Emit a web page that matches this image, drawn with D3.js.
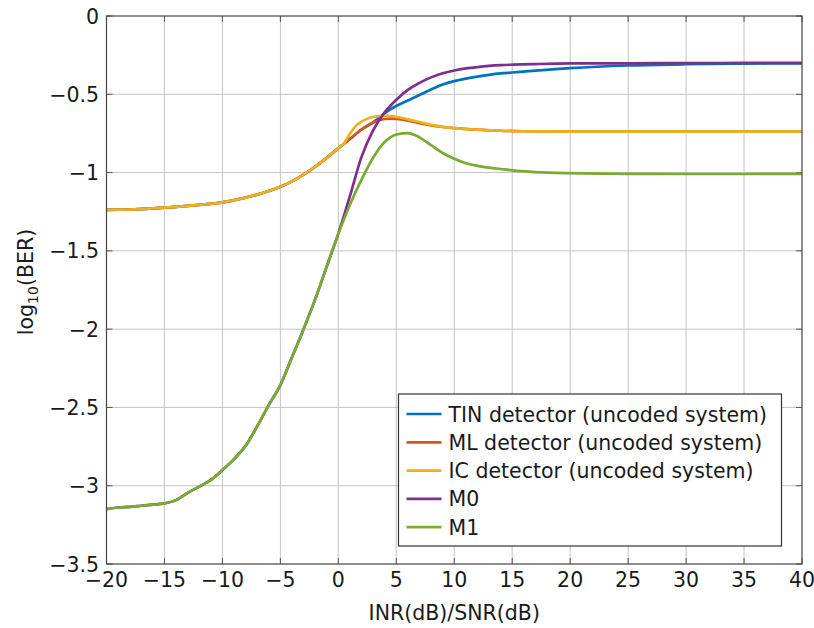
<!DOCTYPE html>
<html>
<head>
<meta charset="utf-8">
<script src="https://cdn.jsdelivr.net/npm/d3@7"></script>
<style>
  html, body { margin: 0; padding: 0; background: #fff; }
  svg { display: block; }
  text { font-family: "DejaVu Sans", sans-serif; fill: #1a1a1a; }
</style>
</head>
<body>
<svg id="chart" width="814" height="628"></svg>
<script>
// BER vs INR/SNR for the uncoded detectors and the two models
const xTicks = [-20, -15, -10, -5, 0, 5, 10, 15, 20, 25, 30, 35, 40];
const yTicks = [0, -0.5, -1, -1.5, -2, -2.5, -3, -3.5];

const seriesNames = [
  "TIN detector (uncoded system)",
  "ML detector (uncoded system)",
  "IC detector (uncoded system)",
  "M0",
  "M1"
];
const seriesColors = ["#0072BD", "#D95319", "#EDB120", "#7E2F8E", "#77AC30"];

// shared low-INR part of the three uncoded detectors
const lowX = [-20, -18, -16, -14, -12, -10, -8, -6, -5, -4, -3, -2, -1, 0];
const lowY = [-1.238, -1.236, -1.229, -1.219, -1.206, -1.19, -1.16, -1.118, -1.09, -1.056, -1.013, -0.963, -0.906, -0.845];

const tinX = [1, 2, 3, 3.5, 4, 5, 6, 7, 8, 9, 10, 11, 12, 13, 14, 15, 17, 20, 25, 30, 35, 40];
const tinY = [-0.785, -0.725, -0.68, -0.65, -0.62, -0.575, -0.54, -0.505, -0.47, -0.438, -0.416, -0.4, -0.387, -0.376, -0.367, -0.361, -0.349, -0.333, -0.316, -0.308, -0.304, -0.303];

const mlX = [1, 2, 3, 4, 4.5, 5, 6, 7, 8, 9, 10, 12, 14, 16, 20, 25, 30, 35, 40];
const mlY = [-0.785, -0.725, -0.68, -0.658, -0.655, -0.657, -0.668, -0.685, -0.699, -0.709, -0.716, -0.726, -0.733, -0.736, -0.738, -0.739, -0.739, -0.739, -0.739];

const icX = [0.5, 1, 1.5, 2, 2.5, 3, 3.5, 4, 5, 6, 7, 8, 9, 10, 12, 14, 16, 20, 25, 30, 35, 40];
const icY = [-0.812, -0.752, -0.703, -0.674, -0.656, -0.645, -0.639, -0.638, -0.644, -0.66, -0.677, -0.695, -0.708, -0.716, -0.726, -0.733, -0.736, -0.738, -0.739, -0.739, -0.739, -0.739];

// simulated models share the same low-INR points
const modelLowX = [-20, -19, -18, -17, -16, -15, -14, -13, -12, -11, -10, -9, -8, -7, -6, -5, -4, -3, -2, -1, 0];
const modelLowY = [-3.15, -3.139, -3.135, -3.128, -3.121, -3.113, -3.092, -3.046, -3.006, -2.963, -2.9, -2.83, -2.745, -2.62, -2.485, -2.357, -2.18, -2.0, -1.81, -1.6, -1.39];

const m0X = [1, 2, 3, 4, 5, 6, 7, 8, 9, 10, 11, 12, 13, 14, 15, 17, 20, 25, 30, 35, 40];
const m0Y = [-1.15, -0.9, -0.73, -0.615, -0.535, -0.472, -0.427, -0.392, -0.366, -0.348, -0.335, -0.326, -0.319, -0.314, -0.311, -0.307, -0.303, -0.302, -0.301, -0.3, -0.3];

const m1X = [1, 2, 3, 4, 5, 6, 7, 8, 9, 10, 11, 12, 13, 14, 15, 17, 20, 25, 30, 35, 40];
const m1Y = [-1.205, -1.045, -0.905, -0.805, -0.757, -0.748, -0.775, -0.825, -0.875, -0.912, -0.94, -0.957, -0.968, -0.977, -0.986, -0.997, -1.004, -1.008, -1.009, -1.009, -1.008];

const toPts = (xs, ys) => xs.map((v, i) => [v, ys[i]]);
const seriesData = [
  toPts(lowX, lowY).concat(toPts(tinX, tinY)),
  toPts(lowX, lowY).concat(toPts(mlX, mlY)),
  toPts(lowX, lowY).concat(toPts(icX, icY)),
  toPts(modelLowX, modelLowY).concat(toPts(m0X, m0Y)),
  toPts(modelLowX, modelLowY).concat(toPts(m1X, m1Y))
];

const svg = d3.select("#chart");
const pLeft = 106.5, pRight = 802, pTop = 16, pBottom = 564;
const fontSize = "20.5px";

const x = d3.scaleLinear().domain([-20, 40]).range([pLeft, pRight]);
const y = d3.scaleLinear().domain([-3.5, 0]).range([pBottom, pTop]);
const fmt = d3.format("~g");

// grid
const grid = svg.append("g").attr("stroke", "#c4c4c4").attr("stroke-width", 1);
grid.selectAll(".gx").data(xTicks.slice(1, -1)).join("line")
  .attr("x1", d => x(d)).attr("x2", d => x(d))
  .attr("y1", pTop).attr("y2", pBottom);
grid.selectAll(".gy").data(yTicks.slice(1, -1)).join("line")
  .attr("y1", d => y(d)).attr("y2", d => y(d))
  .attr("x1", pLeft).attr("x2", pRight);

// inward ticks on all four sides
const tickLen = 6;
const ticks = svg.append("g").attr("stroke", "#555").attr("stroke-width", 1);
xTicks.forEach(t => {
  ticks.append("line").attr("x1", x(t)).attr("x2", x(t)).attr("y1", pBottom).attr("y2", pBottom - tickLen);
  ticks.append("line").attr("x1", x(t)).attr("x2", x(t)).attr("y1", pTop).attr("y2", pTop + tickLen);
});
yTicks.forEach(t => {
  ticks.append("line").attr("y1", y(t)).attr("y2", y(t)).attr("x1", pLeft).attr("x2", pLeft + tickLen);
  ticks.append("line").attr("y1", y(t)).attr("y2", y(t)).attr("x1", pRight).attr("x2", pRight - tickLen);
});

// curves
const line = d3.line().x(d => x(d[0])).y(d => y(d[1])).curve(d3.curveMonotoneX);
const plot = svg.append("g");
seriesData.forEach((pts, i) => {
  plot.append("path").datum(pts)
    .attr("fill", "none")
    .attr("stroke", seriesColors[i])
    .attr("stroke-width", 2.7)
    .attr("stroke-linejoin", "round")
    .attr("d", line);
});

// frame
svg.append("rect")
  .attr("x", pLeft).attr("y", pTop)
  .attr("width", pRight - pLeft).attr("height", pBottom - pTop)
  .attr("fill", "none").attr("stroke", "#444").attr("stroke-width", 1.2);

// tick labels
svg.append("g").selectAll("text").data(xTicks).join("text")
  .attr("x", d => x(d)).attr("y", 587)
  .attr("text-anchor", "middle")
  .style("font-size", fontSize)
  .text(d => fmt(d));
svg.append("g").selectAll("text").data(yTicks).join("text")
  .attr("x", 99).attr("y", d => y(d) + 7.5)
  .attr("text-anchor", "end")
  .style("font-size", fontSize)
  .text(d => fmt(d));

// axis titles
svg.append("text")
  .attr("x", (pLeft + pRight) / 2).attr("y", 620)
  .attr("text-anchor", "middle")
  .style("font-size", fontSize)
  .text("INR(dB)/SNR(dB)");

const yTitle = svg.append("text")
  .attr("transform", `translate(33,${(pTop + pBottom) / 2 - 8}) rotate(-90)`)
  .attr("text-anchor", "middle")
  .style("font-size", fontSize);
yTitle.append("tspan").text("log");
yTitle.append("tspan").attr("dy", 5).style("font-size", "14px").text("10");
yTitle.append("tspan").attr("dy", -5).text("(BER)");

// legend
const lg = svg.append("g");
lg.append("rect")
  .attr("x", 398.5).attr("y", 394)
  .attr("width", 383).attr("height", 152)
  .attr("fill", "#fff").attr("stroke", "#333").attr("stroke-width", 1.2);
seriesNames.forEach((name, i) => {
  const cy = 414 + i * 28.3;
  lg.append("line")
    .attr("x1", 406.5).attr("x2", 441.5)
    .attr("y1", cy).attr("y2", cy)
    .attr("stroke", seriesColors[i]).attr("stroke-width", 2.7);
  lg.append("text")
    .attr("x", 448.5).attr("y", cy + 7.5)
    .style("font-size", fontSize)
    .text(name);
});
</script>
</body>
</html>
